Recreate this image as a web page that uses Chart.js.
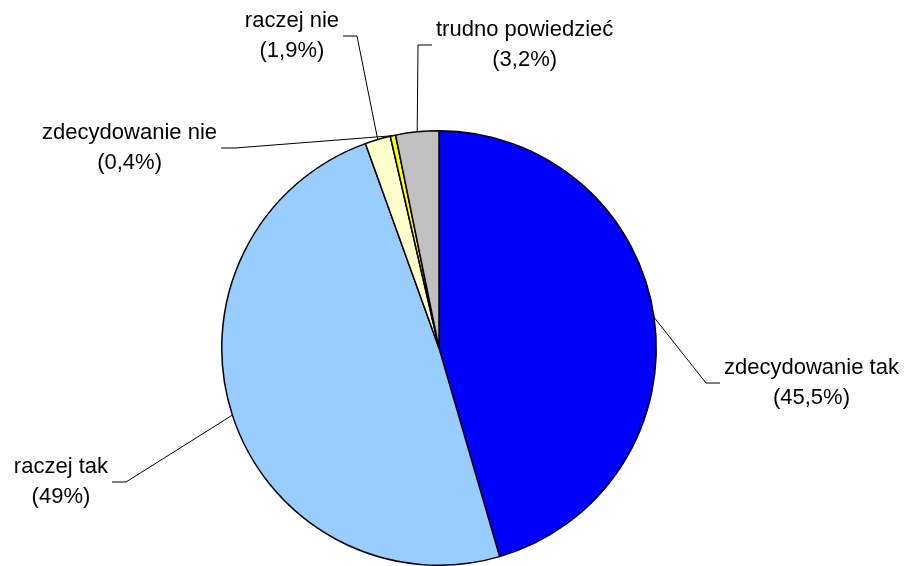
<!DOCTYPE html>
<html>
<head>
<meta charset="utf-8">
<script src="https://cdn.jsdelivr.net/npm/chart.js@4/dist/chart.umd.min.js"></script>
<style>
  html, body { margin: 0; padding: 0; background: #fff; overflow: hidden; }
  canvas { display: block; }
</style>
</head>
<body>
<canvas id="chart1" width="908" height="566"></canvas>
<script>
// data
const categories = ['zdecydowanie tak', 'raczej tak', 'raczej nie', 'zdecydowanie nie', 'trudno powiedzieć']
const shares = [45.5, 49, 1.9, 0.4, 3.2]
const sliceColors = ['#0000FF', '#99CCFF', '#FFFFCC', '#FFFF00', '#C0C0C0']

// where each callout goes: elbow point, direction of the short horizontal tail
const callouts = [
  { elbow: [706, 383], side: 1 },
  { elbow: [126, 482], side: -1 },
  { elbow: [357, 36], side: -1 },
  { elbow: [235, 148], side: -1 },
  { elbow: [418, 45], side: 1 }
]

const FONT = '22px "Liberation Sans", Arial, sans-serif'

let fmt = (v) => '(' + String(v).replace('.', ',') + '%)'

let calloutPlugin = {
  id: 'callouts',
  afterDatasetsDraw(chart) {
    let ctx = chart.ctx
    let meta = chart.getDatasetMeta(0)
    ctx.save()
    ctx.font = FONT
    ctx.fillStyle = '#000'
    ctx.strokeStyle = '#000'
    ctx.lineWidth = 1
    ctx.textBaseline = 'middle'
    ctx.textAlign = 'center'
    meta.data.forEach((arc, i) => {
      let c = callouts[i]
      let mid = (arc.startAngle + arc.endAngle) / 2
      let ax = arc.x + Math.cos(mid) * arc.outerRadius
      let ay = arc.y + Math.sin(mid) * arc.outerRadius
      let [ex, ey] = c.elbow
      let tx = ex + c.side * 14
      ctx.beginPath()
      ctx.moveTo(ax, ay)
      ctx.lineTo(ex, ey)
      ctx.lineTo(tx, ey)
      ctx.stroke()

      let line1 = categories[i]
      let line2 = fmt(shares[i])
      let w = Math.max(ctx.measureText(line1).width, ctx.measureText(line2).width)
      let cx = tx + c.side * (w / 2 + 4)
      ctx.fillText(line1, cx, ey - 15)
      ctx.fillText(line2, cx, ey + 15)
    })
    ctx.restore()
  }
}

let ctx = document.getElementById('chart1').getContext('2d')
new Chart(ctx, {
  type: 'pie',
  data: {
    labels: categories,
    datasets: [{
      data: shares,
      backgroundColor: sliceColors,
      borderColor: '#000',
      borderWidth: 1.5
    }]
  },
  options: {
    responsive: false,
    animation: false,
    layout: {
      padding: { left: 221, right: 251, top: 130, bottom: 0 }
    },
    plugins: {
      legend: { display: false },
      tooltip: { enabled: false }
    }
  },
  plugins: [calloutPlugin]
})
</script>
</body>
</html>
